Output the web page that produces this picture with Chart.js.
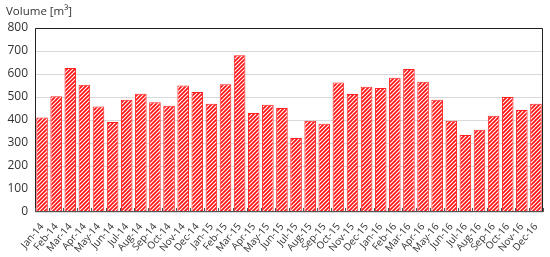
<!DOCTYPE html>
<html><head><meta charset="utf-8">
<script src="https://cdn.jsdelivr.net/npm/chart.js@4"></script>
<style>html,body{margin:0;padding:0;background:#fff}#wrap{width:550px;height:257px}</style>
</head><body><div id="wrap"><canvas id="c" width="550" height="257"></canvas></div>
<script>
const categories = ["Jan-14","Feb-14","Mar-14","Apr-14","May-14","Jun-14","Jul-14","Aug-14","Sep-14","Oct-14","Nov-14","Dec-14",
"Jan-15","Feb-15","Mar-15","Apr-15","May-15","Jun-15","Jul-15","Aug-15","Sep-15","Oct-15","Nov-15","Dec-15",
"Jan-16","Feb-16","Mar-16","Apr-16","May-16","Jun-16","Jul-16","Aug-16","Sep-16","Oct-16","Nov-16","Dec-16"];
const volume = [411,503,626,553,459,391,488,514,477,462,550,522,
471,555,681,430,466,452,322,397,384,563,513,545,
539,584,622,566,488,397,335,358,419,500,443,471];
const yTicks = {min:0, max:800, step:100};
const titleText = "Volume [m\u00B3]";

function hatch(){
  const p = document.createElement('canvas');
  p.width = 4; p.height = 4;
  const g = p.getContext('2d');
  g.fillStyle = '#fff'; g.fillRect(0,0,4,4);
  g.strokeStyle = '#ff1010'; g.lineWidth = 1.7;
  g.beginPath();
  g.moveTo(-1,5); g.lineTo(5,-1);
  g.moveTo(-1,1); g.lineTo(1,-1);
  g.moveTo(3,5); g.lineTo(5,3);
  g.stroke();
  return g.createPattern(p,'repeat');
}

const frame = {
  id:'frame',
  afterDatasetsDraw(chart){
    const a = chart.chartArea, ctx = chart.ctx;
    ctx.save();
    ctx.strokeStyle = '#222'; ctx.lineWidth = 1;
    ctx.beginPath();
    ctx.moveTo(a.left+0.5, a.bottom); ctx.lineTo(a.left+0.5, a.top+0.5);
    ctx.lineTo(a.right-0.5, a.top+0.5); ctx.lineTo(a.right-0.5, a.bottom);
    ctx.stroke();
    ctx.strokeStyle = '#555';
    ctx.beginPath();
    ctx.moveTo(a.left, a.bottom-0.5); ctx.lineTo(a.right, a.bottom-0.5);
    const xs = chart.scales.x;
    for (let i=0;i<=categories.length;i++){
      const x = Math.round(xs.getPixelForValue(i-0.5))+0.5;
      ctx.moveTo(x, a.bottom); ctx.lineTo(x, a.bottom-4);
    }
    ctx.stroke();
    ctx.fillStyle = '#333';
    ctx.font = '11.5px "Open Sans"';
    ctx.textBaseline = 'middle';
    ctx.fillText(titleText, 6, 12);
    ctx.restore();
  }
};

new Chart(document.getElementById('c'), {
  type:'bar',
  data:{labels:categories, datasets:[{data:volume, backgroundColor:hatch(), borderColor:'#ff2020', borderWidth:1,
    categoryPercentage:1, barPercentage:0.82}]},
  options:{
    responsive:false, animation:false,
    layout:{padding:{left:0,right:7,top:28,bottom:0}},
    plugins:{legend:{display:false}, tooltip:{enabled:false}, title:{display:false}},
    scales:{
      y:{min:yTicks.min, max:yTicks.max,
        afterFit(s){ s.width = 35; },
        ticks:{stepSize:yTicks.step, color:'#333', font:{family:'Open Sans', size:12}, padding:7},
        grid:{color:'#d9d9d9', drawTicks:false}, border:{display:false}},
      x:{offset:true,
        afterFit(s){ s.height = 45; },
        ticks:{maxRotation:50, minRotation:50, autoSkip:false, color:'#333', font:{family:'Open Sans', size:10}, padding:1},
        grid:{display:false}, border:{display:false}}
    }
  },
  plugins:[frame]
});
</script></body></html>
